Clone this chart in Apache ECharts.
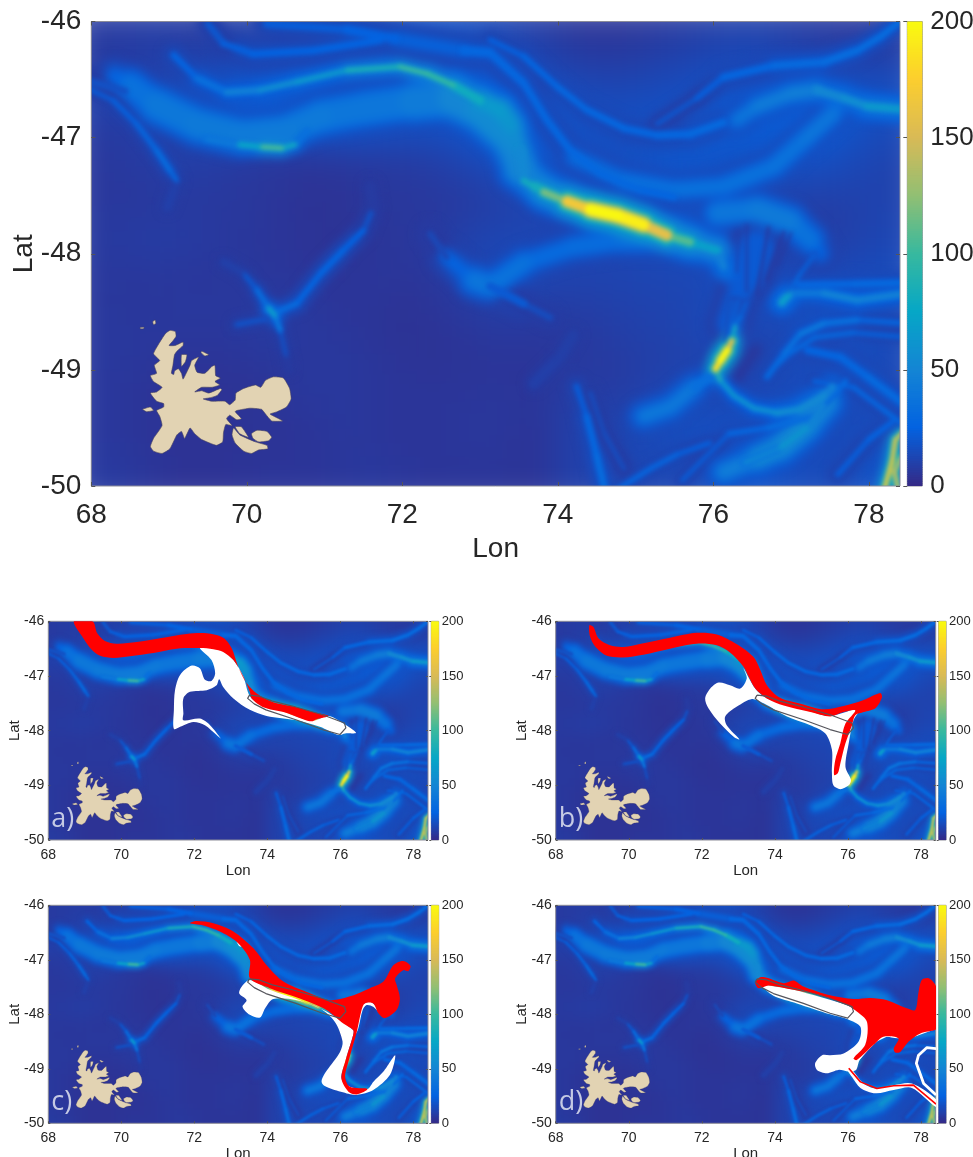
<!DOCTYPE html>
<html><head><meta charset="utf-8">
<script src="https://cdn.jsdelivr.net/npm/echarts@6/dist/echarts.min.js"></script>
<style>html,body{margin:0;padding:0;background:#fff}#c{width:973px;height:1157px}</style>
</head><body><div id="c"></div>
<script>
// ---------- axes ----------
const lonTicks=[68,70,72,74,76,78];
const latTicks=[-50,-49,-48,-47,-46];
const parula=["#352a87","#0363e1","#1485d4","#06a7c6","#38b99e","#92bf73","#d9ba56","#fcce2e","#f9fb0e"];
// ---------- speed field: broad background, rows north to south ----------
const fieldLons=[68.2,68.6,69,69.4,69.8,70.2,70.6,71,71.4,71.8,72.2,72.6,73,73.4,73.8,74.2,74.6,75,75.4,75.8,76.2,76.6,77,77.4,77.8,78.2];
const fieldLats=[-46.125,-46.375,-46.625,-46.875,-47.125,-47.375,-47.625,-47.875,-48.125,-48.375,-48.625,-48.875,-49.125,-49.375,-49.625,-49.875];
const fieldRows=[
[7,8,8,7,9,10,11,14,15,16,16,16,14,11,8,5,5,5,7,8,10,10,8,7,6,8],
[7,8,10,10,11,14,16,18,18,18,18,18,18,15,12,9,8,9,11,13,15,15,13,11,9,10],
[11,11,14,20,22,20,18,16,15,15,15,16,22,22,18,15,14,14,15,16,18,19,20,22,20,18],
[8,8,10,14,22,24,24,24,22,20,18,18,22,22,19,16,16,16,18,20,20,22,22,22,18,14],
[6,8,9,9,8,6,5,6,8,8,9,11,16,20,19,17,15,15,17,19,20,20,18,18,15,12],
[6,6,8,8,6,6,5,4,5,6,6,8,9,13,18,17,17,18,20,18,14,11,13,13,11,10],
[6,6,6,6,6,6,4,4,5,6,6,6,8,9,11,12,12,13,15,17,15,11,9,7,10,12],
[7,8,9,8,6,5,5,4,4,5,6,9,12,13,12,11,11,13,15,16,15,11,9,8,10,12],
[6,6,6,5,6,6,5,4,5,6,5,8,12,14,13,12,12,12,13,13,15,15,12,12,13,15],
[6,5,6,6,6,6,6,5,5,5,4,6,9,11,9,9,10,11,11,12,15,15,18,16,16,15],
[6,6,6,6,6,8,7,6,5,4,4,5,6,7,6,7,8,10,11,13,16,11,14,15,15,12],
[6,6,5,5,5,6,6,6,6,5,4,4,5,5,5,6,7,9,9,10,11,9,14,15,16,15],
[6,5,4,4,4,4,6,6,6,5,5,5,5,5,5,9,6,8,11,14,11,12,14,15,14,12],
[6,5,4,4,4,5,5,6,6,5,5,5,6,6,4,11,9,12,16,14,14,16,16,15,14,14],
[6,5,4,4,4,4,4,5,6,5,5,5,6,5,4,11,10,14,14,16,18,18,16,14,14,16],
[7,6,4,4,4,5,5,5,6,6,5,5,5,5,4,11,10,12,12,14,18,19,15,14,14,20]];
// ---------- jets: [lon, lat, speed, width in degrees of lon] ----------
const jetWestBroad=[[68.3,-46.47,20,.14],[68.5,-46.55,32,.23],[68.84,-46.72,38,.31],[69.36,-46.89,41,.33],[69.91,-46.98,42,.31],[70.51,-46.94,42,.29],[70.94,-46.82,40,.33],[71.5,-46.75,38,.33],[72.14,-46.69,40,.35],[72.66,-46.66,46,.39],[73.0,-46.76,54,.41],[73.34,-46.96,54,.37],[73.52,-47.25,46,.29],[73.99,-47.51,38,.23]];
const jetWestEdge=[[69.48,-47.01,35,.05],[69.91,-47.06,50,.06],[70.2,-47.08,100,.05],[70.45,-47.09,115,.05],[70.62,-47.06,45,.04],[70.77,-46.94,30,.05]];
const jetNorthCore=[[69.06,-46.29,22,.05],[69.36,-46.49,30,.08],[69.74,-46.61,38,.08],[70.17,-46.59,55,.06],[70.64,-46.52,60,.05],[71.29,-46.42,72,.05],[71.97,-46.39,100,.05],[72.32,-46.45,105,.05],[72.66,-46.55,92,.07],[73,-46.68,68,.14],[73.26,-46.76,64,.24],[73.39,-46.88,60,.22],[73.52,-47.11,50,.14],[73.56,-47.31,55,.08]];
const jetMainHalo=[[73.45,-47.3,40,.18],[73.82,-47.47,55,.24],[74.42,-47.62,65,.26],[75.1,-47.75,62,.26],[75.7,-47.9,55,.26],[76.05,-47.97,40,.22],[76.15,-48.15,28,.16]];
const jetMainMid=[[73.7,-47.42,70,.08],[74.12,-47.55,95,.14],[74.42,-47.62,115,.17],[74.76,-47.67,120,.18],[75.1,-47.75,110,.17],[75.4,-47.84,85,.15],[75.7,-47.9,62,.14]];
const jetMainCore=[[73.56,-47.37,70,.05],[73.82,-47.47,95,.07],[74.12,-47.55,140,.11],[74.42,-47.62,195,.14],[74.76,-47.67,200,.15],[75.1,-47.75,185,.14],[75.4,-47.84,130,.11],[75.7,-47.9,85,.09],[76.05,-47.97,55,.1],[76.13,-48.11,35,.08]];
const jetTopStream=[[70.26,-46.02,22,.08],[71.29,-46.07,23,.1],[71.91,-46.15,26,.12],[72.79,-46.25,28,.12],[73.13,-46.27,28,.1],[73.56,-46.53,28,.08],[73.86,-46.85,28,.08],[74.16,-47.11,28,.08],[74.55,-47.31,28,.08],[75.06,-47.45,28,.08],[75.49,-47.51,26,.08]];
const jetTopSecond=[[69.5,-46.02,18,.06],[69.7,-46.19,22,.08],[70.08,-46.28,25,.08],[70.86,-46.25,25,.08],[71.72,-46.16,26,.08]];
const jetNorthEast=[[73.13,-46.16,22,.05],[73.56,-46.3,26,.06],[73.99,-46.56,28,.06],[74.37,-46.76,30,.06],[74.85,-46.92,28,.07],[75.28,-46.98,28,.07],[75.7,-46.97,30,.08],[76.13,-46.87,30,.08]];
const jetTopRight=[[75.28,-46.88,18,.05],[75.79,-46.66,20,.06],[76.13,-46.48,26,.07],[76.78,-46.38,30,.08],[77.42,-46.35,32,.08],[77.85,-46.25,32,.07],[78.15,-46.13,32,.06],[78.5,-45.95,34,.06]];
const jetEast=[[76.3,-46.85,36,.12],[76.56,-46.73,44,.13],[77,-46.62,46,.14],[77.33,-46.59,50,.12],[77.68,-46.66,52,.09],[77.98,-46.73,60,.09],[78.5,-46.76,68,.09]];
const jetEastLower=[[74.2,-47.17,30,.13],[74.85,-47.37,34,.15],[75.53,-47.45,36,.15],[76.13,-47.42,36,.16],[76.78,-47.25,36,.17],[77.2,-47,38,.17],[77.55,-46.79,40,.15]];
const jetWestThin=[[67.9,-46.56,22,.03],[68.28,-46.68,24,.04],[68.58,-46.88,28,.04],[68.84,-47.11,32,.035],[69.01,-47.28,40,.035],[69.1,-47.37,22,.03],[68.98,-47.6,13,.025]];
const jetWestFaint=[[67.9,-46.5,16,.1],[68.43,-46.6,18,.1]];
const saddleNW=[[69.7,-48.07,14,.02],[69.96,-48.17,20,.025],[70.13,-48.31,28,.025],[70.28,-48.47,50,.03],[70.36,-48.53,95,.05]];
const saddleS=[[70.36,-48.53,70,.03],[70.43,-48.66,26,.02],[70.51,-48.89,14,.02],[70.54,-49,10,.02]];
const saddleW=[[69.87,-48.61,14,.03],[70.26,-48.56,28,.025]];
const saddleNE=[[70.39,-48.5,40,.04],[70.64,-48.43,28,.05],[70.95,-48.17,26,.06],[71.24,-47.97,28,.06],[71.5,-47.8,22,.05],[71.63,-47.6,14,.04],[71.59,-47.42,11,.04]];
const jetCentralSouth=[[72.36,-47.83,10,.06],[72.57,-48.03,16,.1],[72.92,-48.23,36,.22],[73.13,-48.28,40,.22],[73.56,-48.08,32,.18],[74.2,-47.94,30,.18],[74.85,-47.88,34,.2],[75.5,-47.88,38,.2]];
const jetCentralFade=[[73.13,-48.28,24,.14],[73.56,-48.43,18,.08],[73.9,-48.55,13,.05]];
const arcEast=[[76.05,-47.65,36,.2],[76.56,-47.62,42,.24],[76.99,-47.72,42,.24],[77.25,-47.88,30,.2],[77.38,-48,18,.14]];
const fanBase=[[76.2,-48.6,20,.18],[76.4,-48.2,22,.42],[76.55,-47.95,20,.5]];
const fanStreakA=[[76.43,-48.32,8,.03],[76.43,-47.75,8,.03]];
const fanStreakB=[[76.56,-48.35,6,.035],[76.71,-47.77,6,.035]];
const fanStreakC=[[76.69,-48.23,6,.035],[76.91,-47.81,6,.035]];
const fanStreakD=[[76.3,-48.16,10,.025],[76.33,-47.81,10,.025]];
const fanStreakE=[[76.82,-48.1,7,.03],[77,-47.82,7,.03]];
const darkWedge=[[76.3,-49.08,5,.1],[76.42,-48.95,5,.14],[76.55,-48.82,6,.14]];
const hotSpot=[[76.03,-48.99,170,.045],[76.09,-48.92,200,.075],[76.18,-48.83,195,.075],[76.24,-48.75,120,.04],[76.28,-48.63,45,.02],[76.35,-48.54,30,.02]];
const fanThreadA=[[76.2,-48.75,40,.012],[76.32,-48.4,26,.012]];
const fanThreadB=[[76.22,-48.75,40,.012],[76.42,-48.42,26,.012]];
const fanThreadC=[[76.18,-48.75,36,.012],[76.24,-48.4,24,.012]];
const hotTail=[[76.03,-48.99,120,.025],[76.09,-49.09,75,.03],[76.26,-49.22,60,.035],[76.52,-49.33,70,.035],[76.82,-49.37,55,.045],[77.12,-49.34,55,.09],[77.42,-49.23,50,.11],[77.53,-49.15,40,.11]];
const blobEast=[[76.88,-48.42,62,.07],[76.93,-48.38,75,.08],[76.97,-48.36,60,.05]];
const threadEast=[[76.93,-48.38,34,.02],[77.12,-48.17,30,.02],[77.31,-48,28,.02]];
const bandEast=[[76.99,-48.34,40,.08],[77.42,-48.34,40,.08],[77.85,-48.4,55,.07],[78.5,-48.34,38,.08]];
const bandEastUpper=[[77.1,-48.27,28,.06],[77.8,-48.26,30,.07],[78.5,-48.25,30,.07]];
const waveEast=[[76.69,-49.06,30,.04],[76.91,-48.86,35,.04],[77.12,-48.69,42,.04],[77.42,-48.6,45,.04],[77.85,-48.57,32,.04],[78.5,-48.6,26,.04]];
const waveSouth=[[77.21,-48.83,26,.07],[77.63,-48.89,28,.08],[77.98,-49.06,28,.08],[78.5,-49.32,32,.08]];
const fineEastA=[[76.75,-49,28,.03],[77,-48.85,32,.03],[77.3,-48.72,34,.03],[77.8,-48.68,30,.03],[78.5,-48.72,24,.03]];
const fineEastB=[[77.3,-49.1,26,.04],[77.8,-49.15,28,.04],[78.2,-49.35,30,.04],[78.5,-49.5,30,.04]];
const fineSouth=[[75.6,-49.95,20,.04],[76.2,-49.55,24,.05],[76.7,-49.5,34,.05],[77.3,-49.4,34,.05],[77.7,-49.1,28,.05]];
const southEastEdge=[[77.6,-49.9,22,.05],[78,-49.6,24,.06],[78.3,-49.45,28,.05]];
const southBroad=[[75.1,-49.4,38,.14],[75.45,-49.32,44,.16],[75.75,-49.15,38,.14],[75.96,-49.06,30,.08]];
const southEastBroad=[[76.13,-49.88,38,.14],[76.56,-49.76,52,.2],[76.86,-49.67,56,.22],[77.2,-49.48,52,.26],[77.46,-49.28,48,.2]];
const southEastCore=[[76.4,-49.8,42,.03],[76.86,-49.67,70,.05],[77.2,-49.5,58,.05],[77.42,-49.3,45,.05]];
const southThin=[[74.72,-50.05,28,.04],[75.19,-49.85,30,.04],[75.53,-49.73,28,.04],[75.95,-49.63,22,.04]];
const southStem=[[74.24,-49.14,18,.04],[74.37,-49.4,28,.06],[74.5,-49.74,30,.07],[74.61,-50.05,34,.06]];
const southStemB=[[74.42,-49.2,14,.04],[74.6,-49.55,16,.05],[74.85,-49.85,15,.05]];
const crossLow=[[73.69,-49.12,13,.03],[74.03,-48.89,20,.05],[74.2,-48.7,12,.03]];
const cornerA=[[78.19,-50.05,190,.04],[78.3,-49.78,150,.04],[78.34,-49.6,175,.045],[78.5,-49.5,150,.03]];
const cornerB=[[78.38,-50.05,180,.04],[78.33,-49.88,130,.04],[78.42,-49.75,160,.04]];
const jets=[jetWestBroad,jetWestEdge,jetNorthCore,jetMainHalo,jetMainMid,jetMainCore,jetTopStream,jetTopSecond,jetNorthEast,jetTopRight,jetEast,jetEastLower,jetWestThin,jetWestFaint,saddleNW,saddleS,saddleW,saddleNE,jetCentralSouth,jetCentralFade,arcEast,fanBase,fanStreakA,fanStreakB,fanStreakC,fanStreakD,fanStreakE,darkWedge,hotSpot,fanThreadA,fanThreadB,fanThreadC,hotTail,blobEast,threadEast,bandEast,bandEastUpper,waveEast,waveSouth,fineEastA,fineEastB,fineSouth,southEastEdge,southBroad,southEastBroad,southEastCore,southThin,southStem,southStemB,crossLow,cornerA,cornerB];
// ---------- Kerguelen ----------
const islandMain=[[68.95,-48.69],[69.01,-48.66],[69.08,-48.67],[69.09,-48.71],[69.05,-48.75],[69.0,-48.79],[69.08,-48.79],[69.18,-48.76],[69.18,-48.79],[69.1,-48.84],[69.07,-48.87],[69.05,-48.96],[69.03,-49.03],[69.06,-49.04],[69.07,-49.01],[69.12,-48.99],[69.16,-49.03],[69.18,-49.08],[69.22,-49.03],[69.27,-48.96],[69.29,-48.92],[69.38,-48.89],[69.33,-48.96],[69.36,-49.02],[69.46,-49.03],[69.55,-48.97],[69.59,-48.96],[69.6,-49.05],[69.66,-49.07],[69.59,-49.1],[69.65,-49.13],[69.55,-49.15],[69.42,-49.15],[69.33,-49.19],[69.42,-49.18],[69.51,-49.2],[69.66,-49.16],[69.68,-49.17],[69.62,-49.22],[69.53,-49.24],[69.44,-49.25],[69.55,-49.27],[69.72,-49.27],[69.78,-49.3],[69.85,-49.26],[69.86,-49.2],[69.96,-49.16],[70.11,-49.13],[70.18,-49.15],[70.24,-49.09],[70.34,-49.06],[70.47,-49.07],[70.55,-49.16],[70.57,-49.25],[70.51,-49.32],[70.39,-49.36],[70.3,-49.38],[70.35,-49.4],[70.46,-49.44],[70.32,-49.44],[70.24,-49.38],[70.19,-49.34],[70.04,-49.33],[69.87,-49.35],[69.85,-49.36],[69.93,-49.42],[69.87,-49.43],[69.78,-49.39],[69.74,-49.42],[69.81,-49.48],[69.73,-49.47],[69.7,-49.54],[69.69,-49.62],[69.61,-49.65],[69.42,-49.6],[69.33,-49.55],[69.27,-49.5],[69.2,-49.59],[69.16,-49.53],[69.1,-49.56],[69.01,-49.68],[68.91,-49.72],[68.8,-49.7],[68.76,-49.66],[68.8,-49.59],[68.91,-49.48],[68.88,-49.4],[68.84,-49.35],[68.93,-49.32],[68.93,-49.29],[68.84,-49.27],[68.76,-49.2],[68.84,-49.19],[68.91,-49.15],[68.8,-49.1],[68.76,-49.05],[68.84,-49.03],[68.81,-48.96],[68.88,-48.92],[68.8,-48.86]];
const islandSE=[[69.83,-49.5],[69.91,-49.56],[70.11,-49.62],[70.26,-49.65],[70.27,-49.68],[70.15,-49.69],[70.06,-49.72],[69.96,-49.7],[69.85,-49.63],[69.81,-49.56]];
const islandE=[[70.06,-49.55],[70.13,-49.52],[70.26,-49.53],[70.32,-49.58],[70.28,-49.61],[70.15,-49.62],[70.08,-49.59]];
const islandSliver=[[69.85,-49.49],[69.93,-49.49],[70.02,-49.58],[69.91,-49.55]];
const islandW=[[68.66,-49.34],[68.76,-49.32],[68.8,-49.35],[68.71,-49.36]];
const islandN=[[69.42,-48.84],[69.51,-48.87],[69.46,-48.88],[69.41,-48.85]];
const islandNW1=[[68.63,-48.634],[68.68,-48.634],[68.67,-48.646],[68.63,-48.646]];
const islandNW2=[[68.79,-48.585],[68.82,-48.57],[68.83,-48.6],[68.8,-48.61]];
const islandFjord=[[69.16,-48.87],[69.23,-48.87],[69.21,-48.93],[69.16,-48.97]];
const islands=[islandMain,islandSE,islandE,islandSliver,islandW,islandN,islandNW1,islandNW2,islandFjord];
// ---------- initial patch outline, same in all panels ----------
const patch=[[73.51,-47.35],[73.78,-47.37],[74.14,-47.46],[74.69,-47.55],[75.51,-47.71],[76.11,-47.86],[76.15,-47.95],[75.99,-48.07],[75.51,-47.98],[74.78,-47.8],[73.96,-47.62],[73.64,-47.51],[73.46,-47.41],[73.51,-47.35]];
// ---------- tracer a ----------
const whiteA=[[72.15,-46.48],[72.6,-46.45],[73.07,-46.71],[73.34,-47.01],[73.57,-47.41],[74.44,-47.65],[75.21,-47.82],[75.67,-47.73],[76.04,-47.85],[76.43,-48.04],[76.13,-48.05],[75.94,-48.08],[75.44,-47.93],[74.8,-47.81],[73.98,-47.73],[73.52,-47.62],[73.07,-47.41],[72.79,-47.2],[72.68,-47.06],[72.61,-47.17],[72.34,-47.26],[71.88,-47.29],[71.7,-47.41],[71.7,-47.68],[71.7,-47.81],[72.15,-47.78],[72.43,-47.9],[72.72,-48.14],[72.61,-48.08],[72.29,-47.9],[71.97,-47.84],[71.61,-47.93],[71.44,-47.97],[71.44,-47.62],[71.47,-47.26],[71.61,-46.98],[71.93,-46.81],[72.15,-46.86],[72.29,-47.07],[72.47,-47.09],[72.57,-46.95],[72.47,-46.71]];
const redA=[[69.21,-46],[69.34,-46.22],[69.55,-46.36],[69.87,-46.41],[70.42,-46.38],[71.06,-46.31],[71.79,-46.23],[72.34,-46.22],[72.79,-46.3],[73.02,-46.49],[73.2,-46.83],[73.43,-47.13],[73.71,-47.32],[74.16,-47.48],[74.8,-47.57],[75.26,-47.66],[75.67,-47.73],[75.35,-47.79],[75.21,-47.83],[74.98,-47.79],[74.44,-47.66],[73.89,-47.57],[73.57,-47.41],[73.52,-47.29],[73.34,-47.01],[73.07,-46.71],[72.79,-46.56],[72.52,-46.51],[72.15,-46.49],[71.52,-46.5],[70.88,-46.58],[70.24,-46.64],[69.78,-46.67],[69.42,-46.63],[69.19,-46.52],[68.96,-46.31],[68.7,-46]];
// ---------- tracer b ----------
const whiteB=[[73.14,-46.86],[73.46,-47.23],[73.78,-47.41],[74.97,-47.65],[75.51,-47.73],[76.34,-47.59],[76.15,-47.81],[76.02,-48.23],[75.93,-48.66],[76.08,-48.9],[76.02,-49],[75.79,-49.07],[75.6,-49],[75.56,-48.78],[75.56,-48.35],[75.38,-48.05],[74.97,-47.9],[74.33,-47.74],[73.69,-47.5],[73.37,-47.42],[72.96,-47.56],[72.64,-47.74],[72.68,-47.9],[73.03,-48.16],[72.87,-48.11],[72.5,-47.87],[72.18,-47.59],[72.09,-47.41],[72.23,-47.23],[72.46,-47.12],[72.77,-47.17],[73.05,-47.23],[73.23,-47.04]];
const redB=[[68.92,-46.07],[69.03,-46.1],[69.17,-46.31],[69.49,-46.44],[69.85,-46.47],[70.4,-46.4],[71.13,-46.3],[71.86,-46.21],[72.41,-46.24],[72.96,-46.42],[73.41,-46.65],[73.6,-46.89],[73.78,-47.17],[74.14,-47.4],[74.78,-47.52],[75.33,-47.61],[75.88,-47.55],[76.43,-47.44],[76.88,-47.31],[76.93,-47.39],[76.75,-47.59],[76.43,-47.66],[76.2,-47.72],[76.11,-47.9],[75.93,-48.23],[75.79,-48.6],[75.72,-48.78],[75.62,-48.81],[75.65,-48.54],[75.79,-48.23],[75.93,-47.87],[76.2,-47.63],[75.88,-47.66],[75.51,-47.74],[74.97,-47.66],[74.24,-47.54],[73.78,-47.41],[73.46,-47.23],[73.28,-47.01],[73.14,-46.83],[72.77,-46.57],[72.41,-46.44],[71.86,-46.41],[71.13,-46.5],[70.4,-46.61],[69.85,-46.66],[69.4,-46.63],[69.08,-46.46],[68.94,-46.28]];
// ---------- tracer c ----------
const whiteC=[[73.52,-47.37],[74.07,-47.55],[74.89,-47.74],[75.62,-47.95],[76.35,-48.29],[76.35,-48.38],[76.13,-48.87],[76.03,-49.18],[76.26,-49.33],[76.74,-49.37],[76.9,-49.24],[77.18,-49.05],[77.5,-48.75],[77.36,-49.11],[76.9,-49.39],[76.45,-49.48],[76.22,-49.46],[75.49,-49.25],[75.99,-48.69],[76.06,-48.5],[75.85,-48.14],[75.44,-47.89],[74.8,-47.74],[74.16,-47.72],[73.94,-47.89],[73.8,-48.06],[73.52,-48.01],[73.32,-47.86],[73.43,-47.74],[73.23,-47.62],[73.3,-47.49]];
const whiteCNotch=[[76.58,-47.85],[76.81,-47.77],[77.04,-47.89],[77.22,-47.95],[77.41,-47.86],[77.27,-47.98],[77.09,-47.98],[76.9,-47.86],[76.72,-47.83],[76.61,-47.92],[76.49,-48.26],[76.4,-48.38],[76.38,-48.28]];
const whiteCSpeck=[[73.16,-46.67],[73.3,-46.76],[73.22,-46.74]];
const redC=[[71.88,-46.33],[72.06,-46.29],[72.52,-46.33],[73.07,-46.48],[73.62,-46.79],[73.98,-47.1],[74.44,-47.4],[75.08,-47.59],[75.71,-47.74],[76.22,-47.68],[76.81,-47.52],[77.18,-47.4],[77.45,-47.1],[77.72,-47.02],[77.92,-47.11],[77.86,-47.21],[77.72,-47.19],[77.5,-47.34],[77.54,-47.46],[77.63,-47.71],[77.54,-47.92],[77.22,-48.07],[77.04,-47.98],[76.9,-47.8],[76.67,-47.8],[76.58,-47.92],[76.45,-48.32],[76.22,-48.87],[76.13,-49.15],[76.26,-49.33],[76.74,-49.37],[76.45,-49.47],[76.22,-49.42],[76.03,-49.18],[76.13,-48.87],[76.35,-48.38],[76.35,-48.29],[76.08,-48.17],[75.62,-47.92],[74.89,-47.71],[74.07,-47.52],[73.52,-47.34],[73.52,-47],[73.16,-46.67],[72.7,-46.48],[72.25,-46.37]];
// ---------- tracer d ----------
const whiteD=[[73.6,-47.45],[73.96,-47.66],[74.6,-47.8],[75.51,-48],[75.99,-48.09],[76.34,-48.23],[76.29,-48.5],[75.88,-48.72],[75.51,-48.75],[75.29,-48.75],[75.1,-48.9],[75.15,-49.02],[75.42,-49.08],[75.74,-49.02],[76.02,-49.05],[76.22,-49.02],[76.32,-48.84],[76.7,-48.56],[76.97,-48.41],[77.38,-48.44],[77.98,-48.35],[77.9,-48.1],[76.9,-47.9],[76.24,-47.92],[75.97,-47.83],[74.51,-47.55],[73.83,-47.47]];
const whiteDTail=[[75.95,-48.98],[76.05,-48.97],[76.43,-49.27],[76.75,-49.36],[77.25,-49.3],[77.75,-49.27],[78.41,-49.56],[78.41,-49.7],[77.75,-49.35],[77.25,-49.39],[76.75,-49.45],[76.34,-49.35],[76.11,-49.15]];
const redD=[[73.46,-47.41],[73.6,-47.32],[73.78,-47.33],[74.24,-47.43],[74.51,-47.38],[74.78,-47.49],[75.51,-47.65],[76.15,-47.72],[76.61,-47.7],[77.07,-47.74],[77.61,-47.89],[77.84,-47.92],[77.93,-47.59],[78.02,-47.37],[78.21,-47.34],[78.39,-47.46],[78.45,-47.65],[78.45,-48.07],[78.45,-48.26],[77.98,-48.35],[77.66,-48.5],[77.43,-48.69],[77.29,-48.7],[77.25,-48.63],[77.38,-48.44],[76.97,-48.41],[76.7,-48.56],[76.24,-48.84],[76.15,-48.81],[76.47,-48.56],[76.52,-48.14],[76.24,-47.95],[75.97,-47.83],[75.24,-47.65],[74.51,-47.55],[73.83,-47.47],[73.55,-47.52]];
const whiteDEdge=[[76.06,-48.99],[76.7,-48.5],[77.07,-48.38],[77.71,-48.41],[78.41,-48.24]];
const whiteDLoop=[[78.41,-48.63],[78.16,-48.61],[77.93,-48.75],[77.87,-48.9],[78.07,-49.27],[78.41,-49.48]];
const redDTail=[[76.02,-48.99],[76.34,-49.24],[76.79,-49.36],[77.25,-49.31],[77.79,-49.3],[78.41,-49.65]];
// per panel marks
const tracerFills=[[whiteA,redA],[whiteB,redB],[whiteC,whiteCNotch,whiteCSpeck,redC],[whiteD,whiteDTail,redD]];
const tracerFillColors=[['#fff','#f00'],['#fff','#f00'],['#fff','#fff','#fff','#f00'],['#fff','#fff','#f00']];
const panelTags=['a)','b)','c)','d)'];

// layout
const W=973,H=1157;
const small={tick:14,cbTick:13,name:15,gapX:23,gapY:26,tl:2,mx:8,my:4,mc:3};
const P=[
Object.assign({x:91.3,y:21.5,w:808.7,h:464.5,cx:907.3,cw:15},{tick:28,cbTick:26,name:28,gapX:49,gapY:53,tl:4,mx:15,my:10,mc:8}),
Object.assign({x:48.3,y:621.3,w:379.7,h:218.7,cx:431.3,cw:7.4},small),
Object.assign({x:555.7,y:621.3,w:380,h:218.7,cx:938.7,cw:7.4},small),
Object.assign({x:48.3,y:905.3,w:379.7,h:218,cx:431.3,cw:7.4},small),
Object.assign({x:555.7,y:905.3,w:380,h:218,cx:938.7,cw:7.4},small)];
const BLUR={gridMain:20,broadMain:5,jetMain:2.2,gridSmall:9,broadSmall:2.4,jetSmall:1};
const TXT='#262626',EDGE='#8c8c98',FONT='"Liberation Sans",Arial,sans-serif';
const Z_GRID_MAIN=1,Z_GRID_SMALL=2,Z_BROAD_MAIN=3,Z_BROAD_SMALL=4,Z_JET_MAIN=5,Z_JET_SMALL=6,Z_TOP=7;

const col=v=>echarts.color.lerp(Math.max(0,Math.min(1,v/200)),parula);
const fieldData=[];
fieldRows.forEach((r,j)=>r.forEach((v,i)=>fieldData.push([fieldLons[i],fieldLats[j],v,i,j])));
// each jet is painted as a core with softer, wider shoulders beneath it
const allSegments=[];
jets.forEach(f=>{for(let i=0;i+1<f.length;i++){
  const a=f[i],b=f[i+1],v=(a[2]+b[2])/2,w=(a[3]+b[3])/2;
  allSegments.push([a[0],a[1],b[0],b[1],v,w]);
  if(v>=12){
    allSegments.push([a[0],a[1],b[0],b[1],v*.72,w*1.4+.01]);
    allSegments.push([a[0],a[1],b[0],b[1],v*.5+1,Math.min(w*2+.03,w+.14)]);
    allSegments.push([a[0],a[1],b[0],b[1],v*.32+3,Math.min(w*3.5+.06,w+.3)]);
  }
}});
// dark gaps sit above the faint broad shoulders, bright jets above everything
const paintOrder=v=>v<=10?18.5:v;
allSegments.sort((a,b)=>paintOrder(a[4])-paintOrder(b[4]));
const isBroad=s=>s[5]>=.12&&s[4]<70;
const broadSegments=allSegments.filter(isBroad);
const fineSegments=allSegments.filter(s=>!isBroad(s));
const cbData=[];for(let v=0;v<200;v++)cbData.push([0,v]);

const renderField=(params,api)=>{
  const lon=api.value(0),lat=api.value(1),i=api.value(3),j=api.value(4);
  const a=api.coord([lon-.2,lat+.125]),b=api.coord([lon+.2,lat-.125]);
  const o=30;
  const x0=i===0?a[0]-o:a[0]-.5,x1=i===fieldLons.length-1?b[0]+o:b[0]+.5;
  const y0=j===0?a[1]-o:a[1]-.5,y1=j===fieldLats.length-1?b[1]+o:b[1]+.5;
  return {type:'rect',shape:{x:x0,y:y0,width:x1-x0,height:y1-y0},style:{fill:col(api.value(2))}};
};
const renderJet=(params,api)=>{
  const a=api.coord([api.value(0),api.value(1)]),b=api.coord([api.value(2),api.value(3)]);
  return {type:'line',shape:{x1:a[0],y1:a[1],x2:b[0],y2:b[1]},style:{stroke:col(api.value(4)),lineWidth:api.value(5)*api.size([1,0])[0],lineCap:'round',fill:null}};
};
const polyRender=(list,colors,stroke,sw,smooth)=>(params,api)=>{
  const k=params.dataIndex;
  return {type:'polygon',shape:{points:list[k].map(p=>api.coord(p)),smooth:smooth||0},style:{fill:colors[k],stroke:stroke||null,lineWidth:sw||0}};
};
const lineRender=(list,colors,widths)=>(params,api)=>{
  const k=params.dataIndex;
  return {type:'polyline',shape:{points:list[k].map(p=>api.coord(p))},style:{fill:null,stroke:colors[k],lineWidth:widths[k],lineJoin:'round'}};
};

const grid=[],xAxis=[],yAxis=[],series=[],graphic=[];
P.forEach((p,n)=>{
  grid.push({left:p.x,top:p.y,width:p.w,height:p.h,show:true,borderColor:EDGE,borderWidth:1,backgroundColor:'transparent',zlevel:Z_TOP,outerBoundsMode:'none'});
  xAxis.push({gridIndex:n,type:'value',min:68,max:78.4,interval:2,position:'bottom',name:'Lon',nameLocation:'middle',nameGap:p.gapX,zlevel:Z_TOP,
    nameTextStyle:{fontFamily:FONT,fontSize:p.name,color:TXT},splitLine:{show:false},axisLine:{show:false},
    axisTick:{show:true,inside:true,length:p.tl,customValues:lonTicks,lineStyle:{color:'#555'}},
    axisLabel:{customValues:lonTicks,margin:p.mx,fontFamily:FONT,fontSize:p.tick,color:TXT,hideOverlap:false}});
  yAxis.push({gridIndex:n,type:'value',min:-50,max:-46,interval:1,position:'left',name:'Lat',nameLocation:'middle',nameGap:p.gapY,nameRotate:90,nameMoveOverlap:false,zlevel:Z_TOP,
    nameTextStyle:{fontFamily:FONT,fontSize:p.name,color:TXT},splitLine:{show:false},axisLine:{show:false},
    axisTick:{show:true,inside:true,length:p.tl,customValues:latTicks,lineStyle:{color:'#555'}},
    axisLabel:{customValues:latTicks,margin:p.my,fontFamily:FONT,fontSize:p.tick,color:TXT,hideOverlap:false}});
});
// colour bars
P.forEach((p,n)=>{
  grid.push({left:p.cx,top:p.y,width:p.cw,height:p.h,show:true,borderColor:EDGE,borderWidth:1,backgroundColor:'transparent',zlevel:Z_TOP,outerBoundsMode:'none'});
  xAxis.push({gridIndex:5+n,type:'value',min:0,max:1,show:false});
  yAxis.push({gridIndex:5+n,type:'value',min:0,max:200,interval:50,position:'right',zlevel:Z_TOP,splitLine:{show:false},axisLine:{show:false},
    axisTick:{show:true,inside:true,length:p.tl,lineStyle:{color:'#555'}},
    axisLabel:{margin:p.mc,fontFamily:FONT,fontSize:p.cbTick,color:TXT,hideOverlap:false}});
  series.push({type:'custom',xAxisIndex:5+n,yAxisIndex:5+n,zlevel:Z_TOP,z:1,silent:true,clip:true,data:cbData,
    renderItem:(params,api)=>{const v=api.value(1),a=api.coord([0,v+1]),b=api.coord([1,v]);
      return {type:'rect',shape:{x:a[0],y:a[1]-.5,width:b[0]-a[0],height:b[1]-a[1]+1},style:{fill:col(v)}};}});
});
// top and right tick marks
P.forEach((p,n)=>{
  xAxis.push({gridIndex:n,type:'value',min:68,max:78.4,position:'top',zlevel:Z_TOP,splitLine:{show:false},axisLine:{show:false},axisLabel:{show:false},
    axisTick:{show:true,inside:true,length:p.tl,customValues:lonTicks,lineStyle:{color:'#555'}}});
  yAxis.push({gridIndex:n,type:'value',min:-50,max:-46,position:'right',zlevel:Z_TOP,splitLine:{show:false},axisLine:{show:false},axisLabel:{show:false},
    axisTick:{show:true,inside:true,length:p.tl,customValues:latTicks,lineStyle:{color:'#555'}}});
});
P.forEach((p,n)=>{
  const common={xAxisIndex:n,yAxisIndex:n,silent:true};
  series.push(Object.assign({type:'custom',clip:false,zlevel:n?Z_GRID_SMALL:Z_GRID_MAIN,data:fieldData,renderItem:renderField},common));
  series.push(Object.assign({type:'custom',clip:false,zlevel:n?Z_BROAD_SMALL:Z_BROAD_MAIN,data:broadSegments,renderItem:renderJet},common));
  series.push(Object.assign({type:'custom',clip:false,zlevel:n?Z_JET_SMALL:Z_JET_MAIN,data:fineSegments,renderItem:renderJet},common));
  series.push(Object.assign({type:'custom',clip:true,zlevel:Z_TOP,z:2,data:islands.map((d,i)=>[i]),
    renderItem:polyRender(islands,islands.map(()=> '#e2d3b3'),'#4a4560',n?.3:.6,.15)},common));
  if(n){
    const fills=tracerFills[n-1],cols=tracerFillColors[n-1];
    if(n===4){
      const under=[whiteDEdge,whiteDLoop];
      series.push(Object.assign({type:'custom',clip:true,zlevel:Z_TOP,z:3,data:under.map((d,i)=>[i]),
        renderItem:lineRender(under,['#fff','#fff'],[2.8,2.8])},common));
    }
    series.push(Object.assign({type:'custom',clip:true,zlevel:Z_TOP,z:4,data:fills.map((d,i)=>[i]),renderItem:polyRender(fills,cols,null,0,.3)},common));
    if(n===4){
      series.push(Object.assign({type:'custom',clip:true,zlevel:Z_TOP,z:5,data:[[0]],
        renderItem:lineRender([redDTail],['#f00'],[1.6])},common));
    }
    series.push(Object.assign({type:'custom',clip:true,zlevel:Z_TOP,z:6,data:[[0]],
      renderItem:lineRender([patch],['#55555c'],[1.2])},common));
    graphic.push({type:'text',left:p.x+3,top:p.y+p.h-34,zlevel:Z_TOP,z:20,silent:true,
      style:{text:panelTags[n-1],fontFamily:'"Open Sans","DejaVu Sans",sans-serif',fontSize:27,fill:'rgba(214,218,236,.9)'}});
  }
});
const chart=echarts.init(document.getElementById('c'),null,{renderer:'canvas',width:W,height:H});
chart.setOption({animation:false,backgroundColor:'#fff',grid,xAxis,yAxis,series,graphic});
function inset(p){return `M${p.x} ${p.y}H${p.x+p.w}V${p.y+p.h}H${p.x}Z`;}
function applyLayers(){
  const zr=chart.getZr();zr.refreshImmediately&&zr.refreshImmediately();
  const layers=zr.painter.getLayers();
  const mainClip=`path('${inset(P[0])}')`;
  const smallClip=`path('${P.slice(1).map(inset).join('')}')`;
  const set=(z,blur,clip)=>{const l=layers[z];if(l&&l.dom){l.dom.style.filter=`blur(${blur}px)`;l.dom.style.clipPath=clip;}};
  set(Z_GRID_MAIN,BLUR.gridMain,mainClip);set(Z_BROAD_MAIN,BLUR.broadMain,mainClip);set(Z_JET_MAIN,BLUR.jetMain,mainClip);
  set(Z_GRID_SMALL,BLUR.gridSmall,smallClip);set(Z_BROAD_SMALL,BLUR.broadSmall,smallClip);set(Z_JET_SMALL,BLUR.jetSmall,smallClip);
}
applyLayers();
chart.on('finished',applyLayers);
</script></body></html>
